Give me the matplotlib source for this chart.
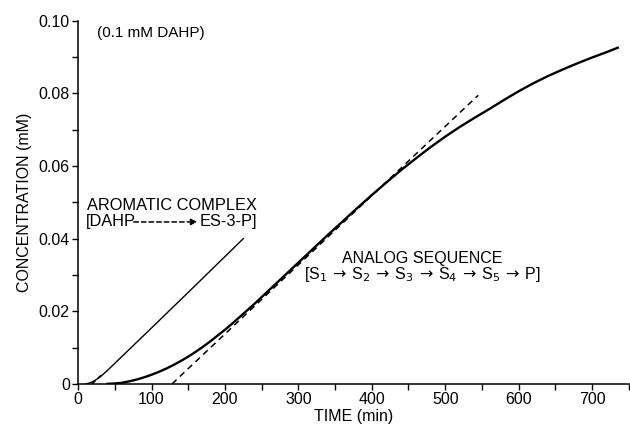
import matplotlib
matplotlib.use("Agg")
import matplotlib.pyplot as plt
from matplotlib.ticker import MultipleLocator

plt.rcParams["font.family"] = ["Liberation Sans", "DejaVu Sans"]

# analog sequence (S1 -> ... -> P) product curve
ANALOG_T = [40, 50, 60, 70, 80, 90, 100, 110, 120, 130, 140, 150, 160, 170,
            180, 190, 200, 210, 220, 230, 240, 250, 260, 270, 280, 290, 300,
            320, 340, 360, 380, 400, 420, 440, 460, 480, 500, 520, 540, 560,
            580, 600, 620, 640, 660, 680, 700, 720, 735]
ANALOG_C = [0.0, 0.0001, 0.0003, 0.0007, 0.0012, 0.0018, 0.0025, 0.0033,
            0.0042, 0.0052, 0.0063, 0.0075, 0.0088, 0.0102, 0.0117, 0.0133,
            0.0149, 0.0166, 0.0184, 0.0202, 0.0220, 0.0239, 0.0258, 0.0277,
            0.0296, 0.0315, 0.0334, 0.0372, 0.0410, 0.0447, 0.0484, 0.0520,
            0.0555, 0.0589, 0.0621, 0.0652, 0.0681, 0.0708, 0.0733, 0.0757,
            0.0782, 0.0806, 0.0828, 0.0848, 0.0866, 0.0883, 0.0899, 0.0914,
            0.0926]

# aromatic complex curve
AROM_T = [11, 15, 20, 25, 30, 35, 40, 60, 100, 150, 225]
AROM_C = [0.0, 0.0002, 0.0006, 0.0012, 0.0019, 0.0028, 0.0037, 0.0076,
          0.0154, 0.0252, 0.0400]

# dashed tangents (extrapolated linear parts)
TAN_A_T = [128, 545]
TAN_A_C = [0.0, 0.0795]
TAN_B_T = [19, 34]
TAN_B_C = [0.0, 0.0029]

fig = plt.figure(figsize=(6.3, 4.26), dpi=100)
ax = fig.add_axes([0.124, 0.099, 0.874, 0.852])

ax.plot(ANALOG_T, ANALOG_C, color="black", lw=1.7)
ax.plot(AROM_T, AROM_C, color="black", lw=1.0)
ax.plot(TAN_A_T, TAN_A_C, color="black", lw=1.1, ls=(0, (4, 3)))
ax.plot(TAN_B_T, TAN_B_C, color="black", lw=1.1, ls=(0, (3, 2)))

ax.set_xlim(0, 750)
ax.set_ylim(0, 0.10)
ax.xaxis.set_major_locator(MultipleLocator(100))
ax.xaxis.set_minor_locator(MultipleLocator(50))
ax.yaxis.set_minor_locator(MultipleLocator(0.01))
ax.set_yticks([0, 0.02, 0.04, 0.06, 0.08, 0.10])
ax.set_yticklabels(["0", "0.02", "0.04", "0.06", "0.08", "0.10"])
ax.tick_params(which="both", direction="out", length=4, width=1, labelsize=11.5)
ax.tick_params(axis="x", pad=2)
ax.tick_params(axis="y", pad=2)
for s in ("top", "right"):
    ax.spines[s].set_visible(False)
ax.spines["left"].set_linewidth(1.1)
ax.spines["bottom"].set_linewidth(1.1)

ax.set_xlabel("TIME (min)", fontsize=11.5, labelpad=1)
ax.set_ylabel("CONCENTRATION (mM)", fontsize=11.5, labelpad=5)

ax.text(26, 0.0967, "(0.1 mM DAHP)", fontsize=11, va="center")

ax.text(12, 0.0490, "AROMATIC COMPLEX", fontsize=11.8, va="center")
ax.text(11, 0.0446, "[DAHP", fontsize=11.8, va="center")
ax.annotate("", xy=(166, 0.0446), xytext=(72, 0.0446),
            arrowprops=dict(arrowstyle="-|>", color="black", lw=1.1,
                            ls=(0, (3, 2)), mutation_scale=9))
ax.text(166, 0.0446, "ES-3-P]", fontsize=11.8, va="center")

ax.text(359, 0.0345, "ANALOG SEQUENCE", fontsize=11.5, va="center")
arr = r"$\,\rightarrow\,$"
seq = ("[S$_1$" + arr + "S$_2$" + arr + "S$_3$" + arr + "S$_4$" + arr
       + "S$_5$" + arr + "P]")
ax.text(308, 0.0300, seq, fontsize=11.5, va="center")

fig.savefig("out.png", dpi=100)
